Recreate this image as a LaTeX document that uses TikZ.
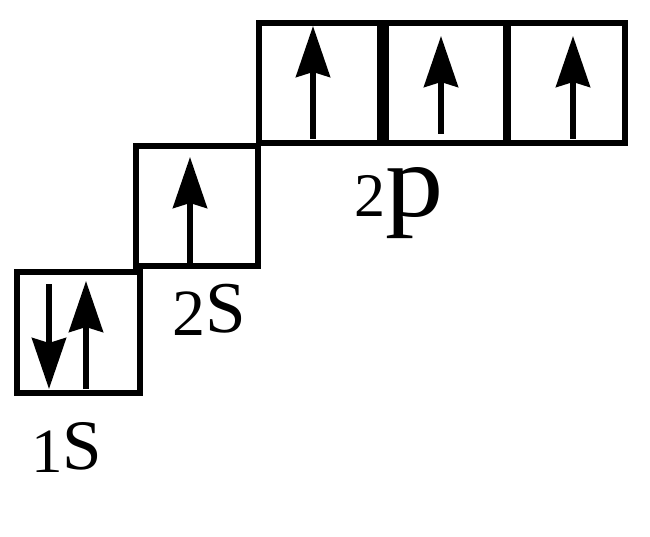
\documentclass[tikz,border=0pt]{standalone}
\usepackage{fontspec}
\setmainfont{Liberation Serif}
\usetikzlibrary{arrows.meta}
\tikzset{
  orb/.style={draw=black, line width=5.5pt, fill=none},
  spin/.style={line width=5.5pt, -{Stealth[length=51pt, width=34pt, inset=5pt]}},
  lbl/.style={inner sep=0pt, anchor=base west, text=black},
}
\newcommand{\fsz}[1]{\fontsize{#1}{#1}\selectfont}
\begin{document}
\begin{tikzpicture}[x=1pt,y=-1pt]
\useasboundingbox (0,0) rectangle (650,537);
% orbital boxes
\draw[orb] (17,272) rectangle (140,393);
\draw[orb] (136,146) rectangle (258,266);
\draw[orb] (259,23) rectangle (380,143);
\draw[orb] (386,23) rectangle (506,143);
\draw[orb] (508,23) rectangle (625,143);
% arrow end points
\coordinate (a1) at (49,284);  \coordinate (b1) at (49,389);
\coordinate (a2) at (86,389);  \coordinate (b2) at (86,281);
\coordinate (a3) at (190,265); \coordinate (b3) at (190,157);
\coordinate (a4) at (313,139); \coordinate (b4) at (313,26);
\coordinate (a5) at (441,134); \coordinate (b5) at (441,36);
\coordinate (a6) at (573,139); \coordinate (b6) at (573,36);
\draw[spin] (a1) -- (b1);
\draw[spin] (a2) -- (b2);
\draw[spin] (a3) -- (b3);
\draw[spin] (a4) -- (b4);
\draw[spin] (a5) -- (b5);
\draw[spin] (a6) -- (b6);
% labels
\node[lbl] (l1) at (31,469) {\raisebox{-3pt}{\fsz{63}1}{\fsz{71}S}};
\node[lbl] (l2) at (172,332) {\raisebox{-3pt}{\fsz{66}2}{\fsz{73}S}};
\node[lbl] (l3) at (354,217) {{\fsz{62}2}{\fsz{104}\scalebox{1.12}[1]{p}}};
\end{tikzpicture}
\end{document}
